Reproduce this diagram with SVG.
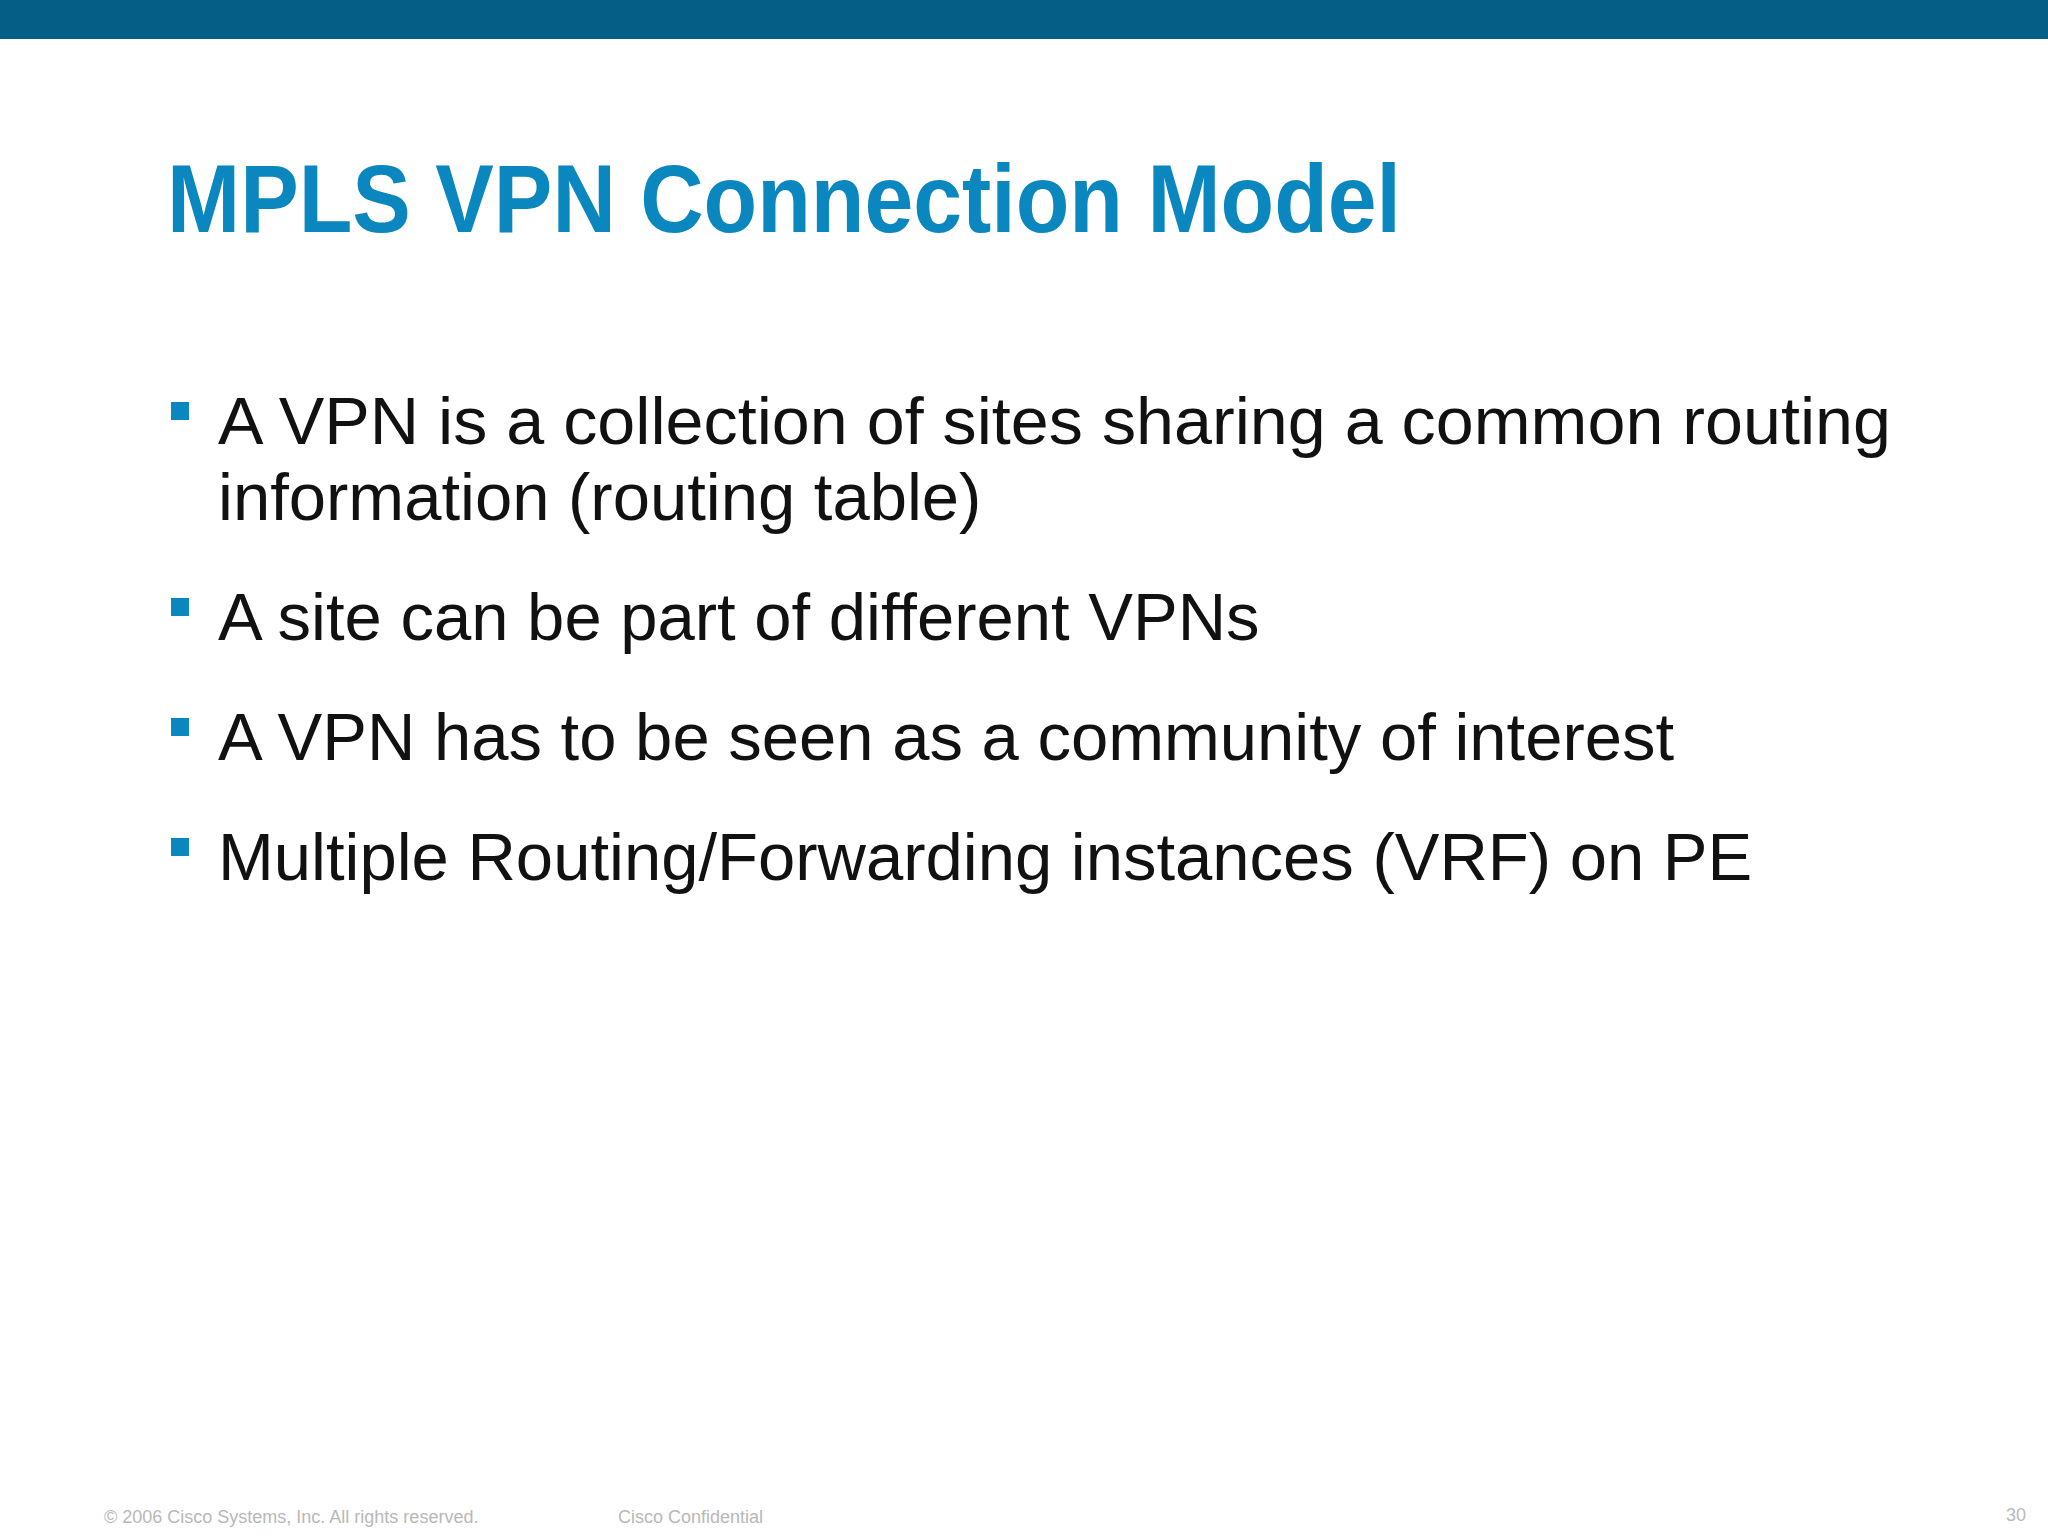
<svg xmlns="http://www.w3.org/2000/svg" width="2048" height="1536" viewBox="0 0 2048 1536">
<style>
.b{font-family:"Liberation Sans",Arial,sans-serif;font-size:67px;fill:#111}
.f{font-family:"Liberation Sans",Arial,sans-serif;font-size:18px;fill:#b8b8b8}
.sq{fill:#0a87be}
</style>
<rect width="2048" height="1536" fill="#fff"/>
<rect width="2048" height="39" fill="#055e85"/>
<text x="167" y="232" font-family="Liberation Sans,Arial,sans-serif" font-weight="bold" font-size="97" fill="#0a87be" textLength="1234" lengthAdjust="spacingAndGlyphs">MPLS VPN Connection Model</text>
<g id="bullets">
<rect class="sq" x="171" y="402" width="18" height="18"/>
<text class="b" x="218" y="444" textLength="1673" lengthAdjust="spacingAndGlyphs">A VPN is a collection of sites sharing a common routing</text>
<text class="b" x="218" y="520">information (routing table)</text>
<rect class="sq" x="171" y="598" width="18" height="18"/>
<text class="b" x="218" y="640">A site can be part of different VPNs</text>
<rect class="sq" x="171" y="718" width="18" height="18"/>
<text class="b" x="218" y="760">A VPN has to be seen as a community of interest</text>
<rect class="sq" x="171" y="838" width="18" height="18"/>
<text class="b" x="218" y="880">Multiple Routing/Forwarding instances (VRF) on PE</text>
</g>
<text class="f" x="104" y="1523">© 2006 Cisco Systems, Inc. All rights reserved.</text>
<text class="f" x="618" y="1523">Cisco Confidential</text>
<text class="f" x="2026" y="1521" font-size="26" text-anchor="end">30</text>
</svg>
